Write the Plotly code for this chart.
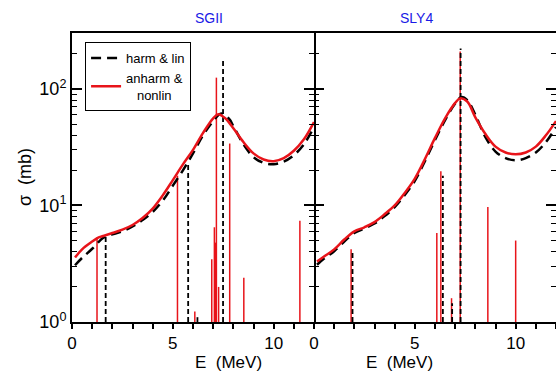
import plotly.graph_objects as go

# ---------------- data ----------------
E_sgii_harm = [0.15, 0.5, 1.0, 1.5, 1.7, 2.0, 2.5, 3.0, 3.5, 4.0, 4.5, 5.0, 5.5, 6.0, 6.5, 7.0, 7.4, 7.8, 8.0, 8.5, 9.0, 9.5, 10.0, 10.5, 11.0, 11.5, 12.0]
sgii_harm = [3.07, 3.55, 4.25, 5.2, 5.45, 5.65, 6.0, 6.6, 7.5, 8.8, 11.0, 14.8, 20.0, 28.0, 40.0, 53.0, 61.5, 55.0, 48.0, 33.5, 26.0, 23.2, 22.6, 23.8, 27.0, 33.5, 47.0]

E_sgii_anh = [0.15, 0.5, 1.0, 1.3, 1.5, 2.0, 2.5, 3.0, 3.5, 4.0, 4.5, 5.0, 5.5, 6.0, 6.5, 7.0, 7.25, 7.6, 8.0, 8.5, 9.0, 9.5, 10.0, 10.5, 11.0, 11.5, 12.0]
sgii_anh = [3.57, 4.2, 4.9, 5.3, 5.45, 5.8, 6.2, 6.8, 7.8, 9.4, 12.2, 16.5, 22.5, 30.0, 42.0, 56.0, 60.7, 56.0, 46.0, 35.0, 28.0, 24.8, 24.0, 25.5, 29.5, 37.0, 52.0]

E_sly4_harm = [0.15, 0.5, 1.0, 1.5, 2.0, 2.5, 3.0, 3.5, 4.0, 4.5, 5.0, 5.5, 6.0, 6.5, 7.0, 7.3, 7.6, 8.0, 8.5, 9.0, 9.5, 10.0, 10.5, 11.0, 11.5, 12.0]
sly4_harm = [3.1, 3.5, 4.05, 4.9, 5.8, 6.35, 7.0, 8.1, 9.7, 12.3, 16.3, 24.0, 36.5, 54.0, 75.0, 85.0, 80.0, 60.0, 38.5, 29.0, 25.5, 24.4, 25.5, 28.5, 35.0, 47.0]

E_sly4_anh = [0.15, 0.5, 1.0, 1.5, 2.0, 2.5, 3.0, 3.5, 4.0, 4.5, 5.0, 5.5, 6.0, 6.5, 7.0, 7.25, 7.6, 8.0, 8.5, 9.0, 9.5, 10.0, 10.5, 11.0, 11.5, 12.0]
sly4_anh = [3.3, 3.65, 4.2, 5.1, 6.0, 6.5, 7.2, 8.4, 10.0, 12.8, 17.0, 25.0, 38.0, 56.0, 76.0, 83.0, 78.0, 57.0, 41.0, 32.0, 28.5, 27.5, 28.5, 32.0, 40.0, 53.0]

# discrete strengths (vertical bars)
sgii_harm_bar_E = [1.67, 5.76, 6.22, 7.49]
sgii_harm_bar_h = [5.5, 23.6, 1.1, 176]
sgii_anh_bar_E = [1.24, 5.23, 6.09, 6.93, 7.06, 7.11, 7.16, 7.27, 7.82, 8.52, 11.3]
sgii_anh_bar_h = [5.3, 18.0, 1.23, 3.45, 6.5, 4.8, 125, 2.0, 34.0, 2.4, 7.4]

sly4_harm_bar_E = [1.91, 6.39, 6.85, 7.27]
sly4_harm_bar_h = [4.05, 18.0, 1.45, 222]
sly4_anh_bar_E = [1.84, 6.09, 6.29, 6.82, 7.25, 8.62, 10.0]
sly4_anh_bar_h = [4.2, 5.8, 19.7, 1.6, 210, 9.7, 5.0]

panel_titles = ["SGII", "SLY4"]
y_tickvals = [1, 10, 100]
y_ticktext = ["10<sup>0</sup>", "10<sup>1</sup>", "10<sup>2</sup>"]
y_minor = [2, 3, 4, 5, 6, 7, 8, 9, 20, 30, 40, 50, 60, 70, 80, 90, 200, 300]

FONT = "Liberation Sans, Arial, Helvetica, sans-serif"
RED = "#e8141a"


def bars(E, h):
    xs, ys = [], []
    for e, v in zip(E, h):
        xs += [e, e, None]
        ys += [1, v, None]
    return xs, ys


fig = go.Figure()

panels = [
    ("x", "y", E_sgii_harm, sgii_harm, E_sgii_anh, sgii_anh,
     sgii_harm_bar_E, sgii_harm_bar_h, sgii_anh_bar_E, sgii_anh_bar_h, True),
    ("x2", "y2", E_sly4_harm, sly4_harm, E_sly4_anh, sly4_anh,
     sly4_harm_bar_E, sly4_harm_bar_h, sly4_anh_bar_E, sly4_anh_bar_h, False),
]

for xa, ya, eh, vh, ea, va, hbE, hbh, abE, abh, show in panels:
    bx, by = bars(abE, abh)
    fig.add_trace(go.Scatter(x=bx, y=by, mode="lines", xaxis=xa, yaxis=ya,
                             line=dict(color=RED, width=1.5), showlegend=False,
                             hoverinfo="skip"))
    bx, by = bars(hbE, hbh)
    fig.add_trace(go.Scatter(x=bx, y=by, mode="lines", xaxis=xa, yaxis=ya,
                             line=dict(color="black", width=1.8, dash="5px,3px"),
                             showlegend=False, hoverinfo="skip"))
    fig.add_trace(go.Scatter(x=eh, y=vh, mode="lines", xaxis=xa, yaxis=ya,
                             line=dict(color="black", width=2.5, dash="10px,6px",
                                       shape="spline", smoothing=1.0),
                             name="harm & lin", showlegend=show, legendrank=1))
    fig.add_trace(go.Scatter(x=ea, y=va, mode="lines", xaxis=xa, yaxis=ya,
                             line=dict(color=RED, width=2.5, shape="spline",
                                       smoothing=1.0),
                             name="anharm &amp;<br>\u00a0\u00a0\u00a0nonlin",
                             showlegend=show, legendrank=2))

xax = dict(range=[0, 12], tickvals=[0, 5, 10], ticks="outside", ticklen=5,
           tickwidth=1.5, tickcolor="black",
           minor=dict(dtick=1, tick0=0, ticks="outside", ticklen=5,
                      tickwidth=1.5, tickcolor="black"),
           showline=True, linecolor="black", linewidth=2, mirror=True,
           showgrid=False, zeroline=False, ticklabelstandoff=0,
           tickfont=dict(size=17, family=FONT, color="black"))

yax = dict(type="log", range=[0, 2.48], tickvals=y_tickvals, ticktext=y_ticktext,
           ticks="inside", ticklen=10, tickwidth=1.5, tickcolor="black",
           minor=dict(tickvals=y_minor, ticks="inside", ticklen=5,
                      tickwidth=1.2, tickcolor="black"),
           showline=True, linecolor="black", linewidth=2, mirror="ticks",
           showgrid=False, zeroline=False,
           tickfont=dict(size=18, family=FONT, color="black"))

fig.update_layout(
    width=556, height=371,
    margin=dict(l=72, r=0, t=33, b=49),
    paper_bgcolor="white", plot_bgcolor="white",
    font=dict(family=FONT, color="black"),
    xaxis=dict(xax, domain=[0, 0.5], anchor="y"),
    xaxis2=dict(xax, domain=[0.5, 1.0], anchor="y2"),
    yaxis=dict(yax, domain=[0, 1], anchor="x"),
    yaxis2=dict(yax, domain=[0, 1], anchor="x2", showticklabels=False,
                showline=False),
    legend=dict(x=0.027, y=0.969, xanchor="left", yanchor="top",
                bgcolor="white", bordercolor="black", borderwidth=1,
                font=dict(size=13, family=FONT, color="black"),
                tracegroupgap=2, itemwidth=30),
    showlegend=True,
)

annotations = [
    dict(text=panel_titles[0], x=0.25, y=1.052, xref="paper", yref="paper",
         showarrow=False, yanchor="middle",
         font=dict(size=14, color="#1a1ae6", family=FONT)),
    dict(text=panel_titles[1], x=0.75, y=1.052, xref="paper", yref="paper",
         showarrow=False, yanchor="middle",
         font=dict(size=14, color="#1a1ae6", family=FONT)),
    dict(text="E  (MeV)", x=0.25, y=-0.141, xref="paper", yref="paper",
         showarrow=False, yanchor="middle", font=dict(size=17, family=FONT)),
    dict(text="E  (MeV)", x=0.75, y=-0.141, xref="paper", yref="paper",
         showarrow=False, yanchor="middle", font=dict(size=17, family=FONT)),
    dict(text="σ  (mb)", x=-0.098, y=0.5, xref="paper", yref="paper",
         showarrow=False, textangle=-90, xanchor="center", yanchor="middle",
         font=dict(size=18, family=FONT)),
]
fig.update_layout(annotations=annotations)

fig.write_html("out.html",
               config={"displayModeBar": False},
               post_script="document.body.style.margin='0px';"
                           "document.body.style.overflow='hidden';")
